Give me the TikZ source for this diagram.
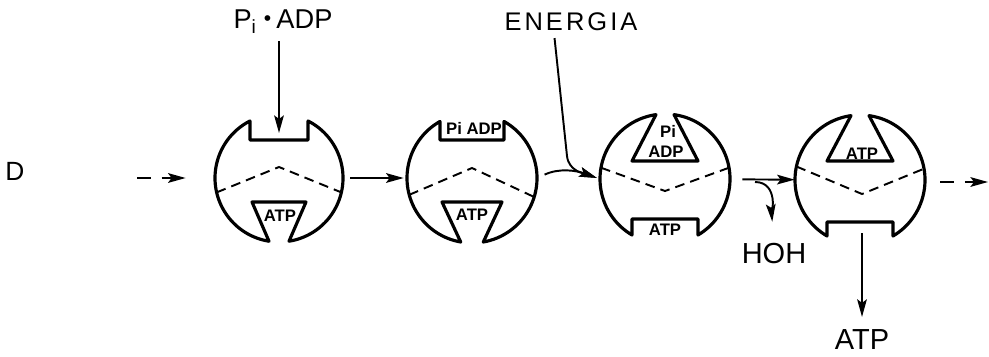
\documentclass[tikz,border=0pt]{standalone}
\usepackage{fontspec}
\setmainfont{Liberation Sans}
\newfontfamily\widefont[LetterSpace=12]{Liberation Sans}
\usetikzlibrary{arrows.meta}

\tikzstyle{enz}=[circle,minimum size=2.6cm,inner sep=0pt]
\tikzstyle{wall}=[line width=1.8pt,line join=round]
\tikzstyle{fold}=[line width=1.1pt,dash pattern=on 5.5pt off 3.5pt]
\tikzstyle{lbl}=[font=\fontsize{16.5}{19}\selectfont,inner sep=1pt]
\tikzstyle{tag}=[font=\fontsize{9.5}{10}\bfseries\selectfont,inner sep=0pt]
\tikzstyle{arr}=[line width=1.1pt,-{Stealth[length=10pt,width=5.5pt,inset=2pt]}]
\tikzstyle{darr}=[arr,dash pattern=on 8pt off 6pt]

\begin{document}
\begin{tikzpicture}[x=0.02cm,y=0.02cm]
\useasboundingbox (0,0) rectangle (989,356);

\node[enz] (e1) at (279,178) {};
\node[enz] (e2) at (472,178) {};
\node[enz] (e3) at (665,177) {};
\node[enz] (e4) at (860,176) {};

% open site on top, ATP held below
\begin{scope}[shift={(e1.center)}]
  \draw[wall] (63:64) arc[start angle=63,end angle=-81,radius=64] -- (27,-24) -- (-27,-24)
    -- (261:64) arc[start angle=261,end angle=117,radius=64] -- (-29,38) -- (29,38) -- cycle;
  \draw[fold] (193:64) -- (0,11) -- (-13:64);
  \node[tag] (t1) at (1,-38) {ATP};
\end{scope}

\begin{scope}[shift={(e2.center)}]
  \draw[wall] (60.5:65) arc[start angle=60.5,end angle=-80,radius=65] -- (30,-24) -- (-30,-24)
    -- (260:65) arc[start angle=260,end angle=119.5,radius=65] -- (-32,38) -- (32,38) -- cycle;
  \draw[fold] (195:65) -- (0,10) -- (-17:65);
  \node[tag] (t2a) at (2,50) {Pi ADP};
  \node[tag] (t2b) at (0,-37) {ATP};
\end{scope}

% conformation change: sites swap
\begin{scope}[shift={(e3.center)}]
  \draw[wall] (82:65) arc[start angle=82,end angle=-59.5,radius=65] -- (33,-40) -- (-33,-40)
    -- (239.5:65) arc[start angle=239.5,end angle=98,radius=65] -- (-33,18) -- (33,18) -- cycle;
  \draw[fold] (170:65) -- (0,-12) -- (10:65);
  \node[tag] (t3a) at (3,48) {Pi};
  \node[tag] (t3b) at (1,27) {ADP};
  \node[tag] (t3c) at (0,-51) {ATP};
\end{scope}

\begin{scope}[shift={(e4.center)}]
  \draw[wall] (82:65) arc[start angle=82,end angle=-59.5,radius=65] -- (33,-42) -- (-33,-42)
    -- (239.5:65) arc[start angle=239.5,end angle=98,radius=65] -- (-33,19) -- (33,19) -- cycle;
  \draw[fold] (168:65) -- (2,-14) -- (10:65);
  \node[tag] (t4) at (2,26) {ATP};
\end{scope}

\node[lbl,font=\fontsize{15}{17}\selectfont] (d) at (15,185) {D};
\node[lbl,font=\fontsize{15.5}{18}\selectfont] (pa) at (283,334) {P\textsubscript{i}\hspace{4pt}\raisebox{0.2ex}{\fontsize{12}{12}\selectfont\textbullet}\hspace{3pt}ADP};
\node[lbl,font=\fontsize{14.5}{17}\widefont] (en) at (571,334) {ENERGIA};
\node[lbl] (hoh) at (774,102) {HOH};
\node[lbl] (atp) at (862,16) {ATP};

\coordinate (din) at (137,178);
\coordinate (dout) at (988,174);
\coordinate (n1) at (279,223);
\coordinate (n4) at (862,123);
\coordinate (br) at (755,174);

\draw[darr,shorten >=0.56cm] (din) -- (din -| e1.west);
\draw[arr,shorten <=0.12cm,shorten >=0.06cm] (e1) -- (e2);
\draw[arr,shorten <=0.1cm] (pa.south -| n1) -- (n1);
\draw[arr,shorten <=0.16cm,shorten >=0.06cm] (e2.east) to[out=25,in=160] (e3.west);
\draw[arr,shorten <=0.1cm,shorten >=0.06cm] ([xshift=-0.34cm]en.south) -- (567,200) to[out=-84,in=160] (e3.west);
\draw[arr,shorten <=0.24cm] (e3) -- (e4);
\draw[arr,shorten >=0.4cm] (br) to[out=0,in=95] (hoh.north);
\draw[arr,shorten >=0.22cm] (n4) -- (atp.north);
\draw[darr,shorten <=0.3cm] (dout -| e4.east) -- (dout);
\end{tikzpicture}
\end{document}
